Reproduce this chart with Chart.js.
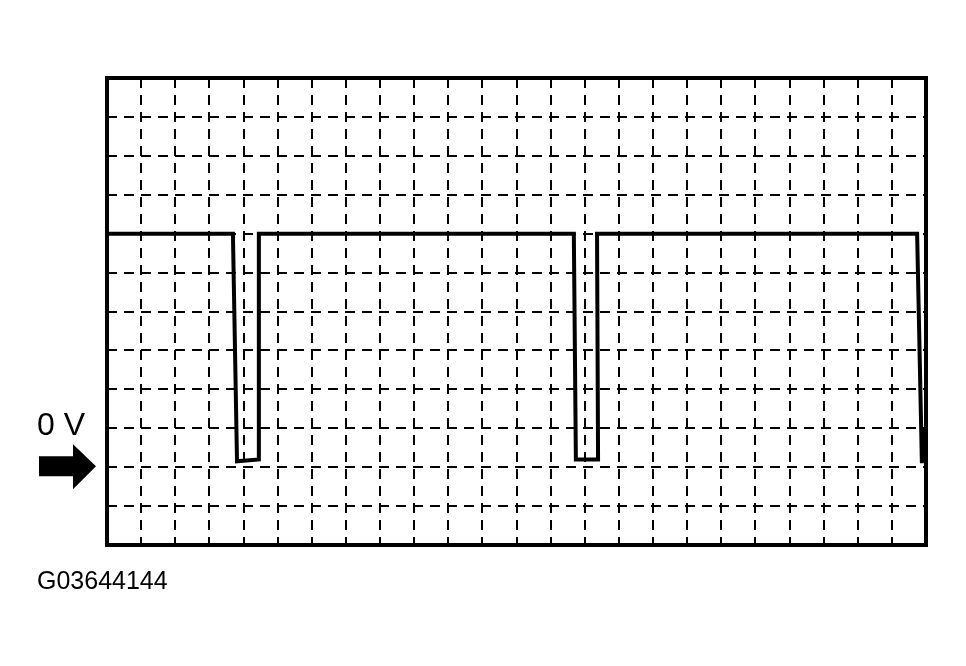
<!DOCTYPE html>
<html>
<head>
<meta charset="utf-8">
<script src="https://cdn.jsdelivr.net/npm/chart.js@4/dist/chart.umd.min.js"></script>
<style>
  html, body { margin: 0; padding: 0; background: #fff; }
  #wrap { position: relative; width: 966px; height: 666px; }
  #scope { position: absolute; left: 0; top: 0; }
  .lbl { position: absolute; font-family: "Liberation Sans", Arial, sans-serif; color: #000; line-height: 1; white-space: nowrap; }
  #zero { left: 37px; top: 408px; font-size: 32px; }
  #code { left: 37px; top: 568px; font-size: 25px; }
</style>
</head>
<body>
<div id="wrap">
  <canvas id="scope" width="966" height="666"></canvas>
  <div class="lbl" id="zero">0 V</div>
  <div class="lbl" id="code">G03644144</div>
</div>
<script>
// time in grid divisions (24 across), voltage in grid divisions (12 up)
const timeDiv = [0, 3.69, 3.81, 4.45, 4.45, 13.68, 13.74, 14.39, 14.36, 23.74, 23.88, 23.92];
const voltDiv = [8, 8, 2.15, 2.2, 8, 8, 2.2, 2.2, 8, 8, 2.1, 3.0];

const xDivs = 24;
const yDivs = 12;
const zeroLevel = 2;

const points = timeDiv.map((t, i) => ({ x: t, y: voltDiv[i] }));

// frame around the screen and the 0 V arrow
const scopeExtras = {
    id: 'scopeExtras',
    afterDatasetsDraw(chart) {
        const { ctx, chartArea: a, scales } = chart;
        ctx.save();
        ctx.strokeStyle = '#000';
        ctx.lineWidth = 4;
        ctx.setLineDash([]);
        ctx.strokeRect(a.left, a.top, a.right - a.left, a.bottom - a.top);

        const yz = scales.y.getPixelForValue(zeroLevel);
        const tip = a.left - 11;
        ctx.fillStyle = '#000';
        ctx.beginPath();
        ctx.moveTo(39, yz - 11);
        ctx.lineTo(73, yz - 11);
        ctx.lineTo(73, yz - 23);
        ctx.lineTo(tip, yz - 1);
        ctx.lineTo(73, yz + 22);
        ctx.lineTo(73, yz + 9);
        ctx.lineTo(39, yz + 9);
        ctx.closePath();
        ctx.fill();
        ctx.restore();
    }
};

const gridOpts = {
    color: '#000',
    lineWidth: 2,
    drawTicks: false
};

new Chart(document.getElementById('scope'), {
    type: 'line',
    data: {
        datasets: [{
            data: points,
            borderColor: '#000',
            borderWidth: 4,
            pointRadius: 0,
            tension: 0,
            borderJoinStyle: 'miter',
            fill: false
        }]
    },
    options: {
        responsive: false,
        animation: false,
        events: [],
        layout: { padding: { left: 107, top: 78, right: 40, bottom: 121 } },
        plugins: { legend: { display: false }, tooltip: { enabled: false } },
        scales: {
            x: {
                type: 'linear',
                min: 0,
                max: xDivs,
                ticks: { display: false, stepSize: 1 },
                grid: gridOpts,
                border: { display: false, dash: [10, 7] }
            },
            y: {
                min: 0,
                max: yDivs,
                ticks: { display: false, stepSize: 1 },
                grid: gridOpts,
                border: { display: false, dash: [10, 7] }
            }
        }
    },
    plugins: [scopeExtras]
});
</script>
</body>
</html>
